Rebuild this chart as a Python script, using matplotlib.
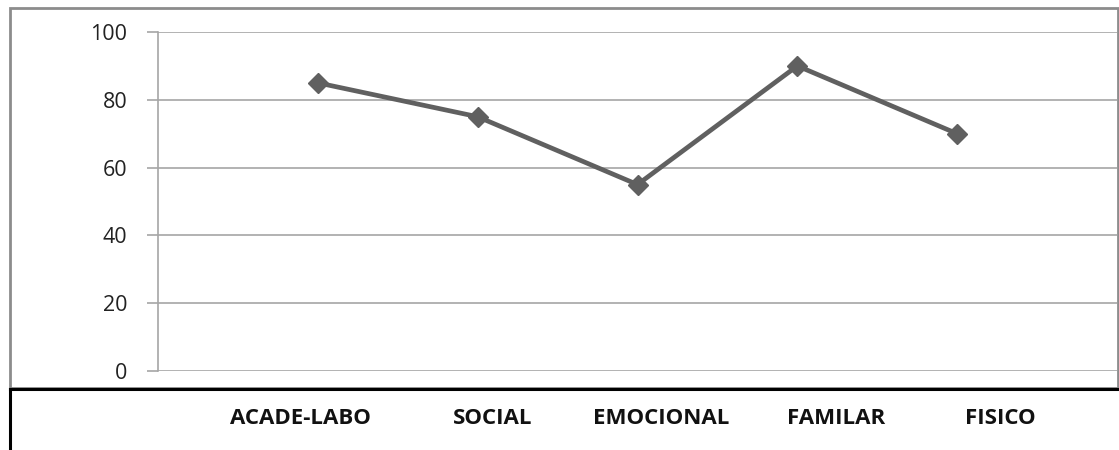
import matplotlib.pyplot as plt
from matplotlib.lines import Line2D
from matplotlib.patches import Rectangle

categories = ['ACADE-LABO', 'SOCIAL', 'EMOCIONAL', 'FAMILAR', 'FISICO']
values = [85, 75, 55, 90, 70]
yticks = [0, 20, 40, 60, 80, 100]

W, H = 1119, 450
fig = plt.figure(figsize=(W / 100, H / 100), dpi=100)

def px(x, y):
    # pixel coords (top-left origin) -> figure fraction
    return x / W, 1 - y / H

l, t = px(158, 32)
r, b = px(1117, 371)
ax = fig.add_axes([l, b, r - l, t - b])

x = list(range(1, len(values) + 1))
ax.plot(x, values, color='#606060', linewidth=3.4, marker='D', markersize=10.5,
        markerfacecolor='#606060', markeredgecolor='#606060', zorder=3)

ax.set_xlim(0, len(values) + 1)
ax.set_ylim(0, 100)
ax.set_yticks(yticks)
ax.set_xticks([])
ax.yaxis.grid(True, color='#a6a6a6', linewidth=1.2)
ax.set_axisbelow(True)
for s in ['top', 'right', 'bottom']:
    ax.spines[s].set_visible(False)
ax.spines['left'].set_color('#a6a6a6')
ax.spines['left'].set_linewidth(1.2)
ax.tick_params(axis='y', length=8, width=1.2, color='#a6a6a6', pad=14,
               labelsize=15.5, labelcolor='#222222')
for lab in ax.get_yticklabels():
    lab.set_fontfamily('Open Sans')

# chart area frame
x0, y0 = px(10, 388)
x1, y1 = px(1118, 8)
fig.add_artist(Rectangle((x0, y0), x1 - x0, y1 - y0, transform=fig.transFigure,
                         fill=False, edgecolor='#8c8c8c', linewidth=2))

# table lines under the chart
fig.add_artist(Line2D([10 / W, 1], [1 - 389 / H] * 2, color='black', linewidth=2.2))
fig.add_artist(Line2D([10 / W] * 2, [1 - 389 / H, 0], color='black', linewidth=2.2))

label_x = [300, 493, 661, 836, 1000]
for cx, name in zip(label_x, categories):
    fx, fy = px(cx, 418)
    fig.text(fx, fy, name, ha='center', va='center', fontsize=16,
             fontweight='bold', family='Open Sans', color='#111111')

fig.savefig('out.png', dpi=100)
